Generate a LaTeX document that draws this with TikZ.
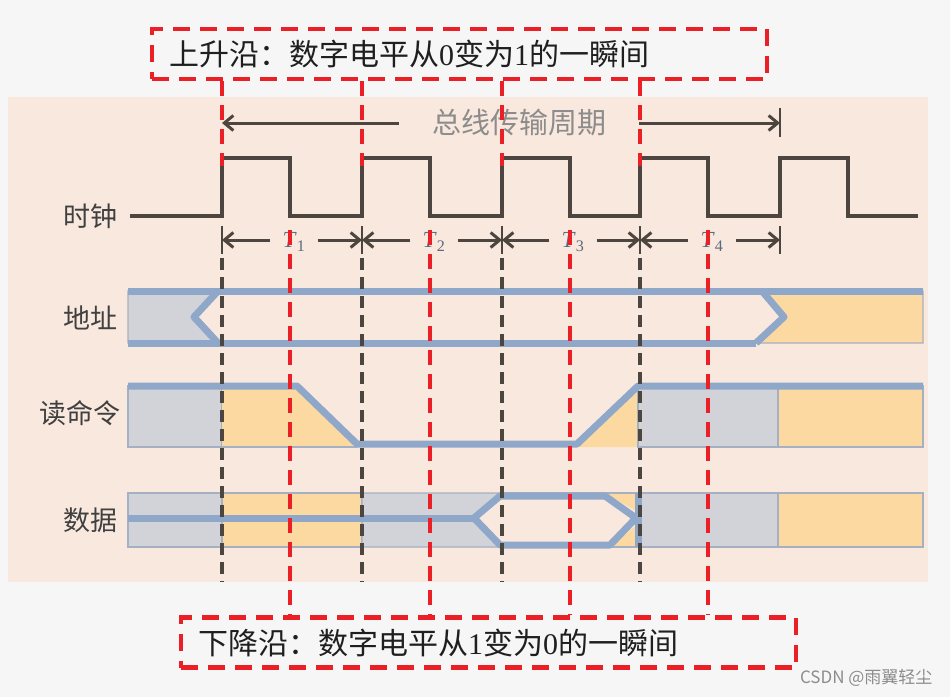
\documentclass[tikz,border=0pt]{standalone}
\usepackage{fontspec}
\setmainfont{Liberation Serif}
\newfontfamily\cjk{Noto Sans CJK SC}
\usetikzlibrary{arrows.meta}
\definecolor{edgered}{RGB}{234,32,38}
\definecolor{clkbrown}{RGB}{77,70,64}
\definecolor{busblue}{RGB}{143,167,200}
\definecolor{thinblue}{RGB}{165,176,194}
\definecolor{validgray}{RGB}{210,211,217}
\definecolor{dataorange}{RGB}{251,217,160}
\definecolor{peach}{RGB}{249,232,222}
\definecolor{paper}{RGB}{246,246,246}
\definecolor{periodgray}{RGB}{140,140,140}
\definecolor{tgray}{RGB}{92,104,128}

\begin{document}
\begin{tikzpicture}[x=1pt,y=-1pt,
	edgebox/.style={draw=edgered,line width=4.5pt,dash pattern=on 17pt off 10pt,minimum height=50pt,text width=581pt,inner xsep=17pt,inner ysep=0pt,align=left,text=black!88,font=\fontsize{30}{34}\selectfont\cjk},
	rowlabel/.style={anchor=east,text=black!75,font=\fontsize{27}{30}\selectfont\cjk},
	reddash/.style={edgered,line width=4pt,dash pattern=on 15pt off 9pt},
	blackdash/.style={clkbrown,line width=3.4pt,dash pattern=on 12pt off 7pt},
	clk/.style={clkbrown,line width=3.5pt},
	dimarr/.style={clkbrown,line width=3pt,-{Straight Barb[length=9pt,width=15pt]}},
	bus/.style={busblue,line width=7pt,line join=round},
	gfill/.style={fill=validgray,draw=thinblue,line width=1.2pt},
	ofill/.style={fill=dataorange,draw=thinblue,line width=1.2pt}
	]
		\fill[paper] (0,0) rectangle (950,697);
		\fill[peach] (8,97) rectangle (928,582);
		\useasboundingbox (0,0) rectangle (950,697);

		\node[edgebox] (rise) at (459.5,54) {上升沿：数字电平从{\rmfamily 0}变为{\rmfamily 1}的一瞬间};
		\node[edgebox] (fall) at (488.5,642.5) {下降沿：数字电平从{\rmfamily 1}变为{\rmfamily 0}的一瞬间};

		\node[rowlabel] (clock) at (121,216) {时钟};
		\node[rowlabel] (addr) at (121,318) {地址};
		\node[rowlabel] (rd) at (124,413) {读命令};
		\node[rowlabel] (data) at (121,520) {数据};

		\draw[clk] (130,216) \foreach \x in {222,362,502,640,780} { -- (\x,216) -- (\x,158) -- ({\x+68},158) -- ({\x+68},216) } -- (918,216);

		\node[text=periodgray,inner xsep=33pt,font=\fontsize{29}{32}\selectfont\cjk] (period) at (519,123) {总线传输周期};
		\coordinate (p0) at (222,123);
		\coordinate (p1) at (780,123);
		\draw[dimarr] (period.west) -- (p0);
		\draw[dimarr] (period.east) -- (p1);
		\draw[clkbrown,line width=2.5pt] (780,108) -- (780,137);

		\foreach \i/\xa/\xb in {1/222/362, 2/362/502, 3/502/640, 4/640/780} {
			\node[text=tgray,inner xsep=12pt,font=\fontsize{23}{25}\selectfont] (t\i) at ({(\xa+\xb)/2+2},242) {\textit{T}\textsubscript{\i}};
			\coordinate (ta\i) at (\xa,240);
			\coordinate (tb\i) at (\xb,240);
			\draw[dimarr] (t\i.west |- ta\i) -- (ta\i);
			\draw[dimarr] (t\i.east |- tb\i) -- (tb\i);
		}
		\foreach \x in {222,362,502,640,780}
			\draw[clkbrown,line width=2.8pt] (\x,226) -- (\x,254);

		\filldraw[gfill] (128,291) -- (218,291) -- (194,317) -- (218,343) -- (128,343) -- cycle;
		\filldraw[ofill] (762,291) -- (923,291) -- (923,343) -- (756,343) -- (784,317) -- cycle;
		\draw[bus] (128,291) -- (923,291);
		\draw[bus] (128,343) -- (756,343);
		\draw[bus] (218,291) -- (194,317) -- (218,343);
		\draw[bus] (762,291) -- (784,317) -- (756,343);

		\filldraw[gfill] (128,386) rectangle (222,447);
		\fill[dataorange] (222,386) -- (297,386) -- (357,447) -- (222,447) -- cycle;
		\draw[thinblue,line width=1.2pt] (222,447) -- (357,447);
		\fill[dataorange] (577,447) -- (638,386) -- (638,447) -- cycle;
		\filldraw[gfill] (638,386) rectangle (778,447);
		\filldraw[ofill] (778,386) rectangle (923,447);
		\draw[bus] (128,386) -- (297,386) -- (357,444) -- (577,444) -- (638,386) -- (923,386);

		\filldraw[gfill] (128,493) rectangle (222,547);
		\filldraw[ofill] (222,493) rectangle (362,547);
		\filldraw[gfill] (362,493) -- (500,493) -- (474,518) -- (500,547) -- (362,547) -- cycle;
		\fill[dataorange] (605,493) -- (638,493) -- (638,512) -- cycle;
		\fill[dataorange] (610,547) -- (638,547) -- (638,524) -- cycle;
		\draw[thinblue,line width=1.2pt] (500,493) -- (638,493) (500,547) -- (638,547);
		\filldraw[gfill] (638,493) rectangle (778,547);
		\filldraw[ofill] (778,493) rectangle (923,547);
		\draw[bus] (128,518) -- (474,518);
		\draw[bus] (474,518) -- (500,496) -- (605,496) -- (636,518) -- (610,545) -- (500,545) -- cycle;
		\draw[bus] (638,493) -- (638,547);

		\foreach \x in {222,362,502,640}
			\draw[blackdash] (\x,258) -- (\x,582);
		\foreach \x in {222,362,502,640}
			\draw[reddash] (rise.south -| \x,0) -- (\x,166);
		\foreach \x in {290,430,570,708}
			\draw[reddash] (\x,230) -- (fall.north -| \x,0);

		\node[text=periodgray,font=\fontsize{17}{19}\selectfont\cjk,anchor=east] (mark) at (936,678) {CSDN @雨翼轻尘};
\end{tikzpicture}
\end{document}
